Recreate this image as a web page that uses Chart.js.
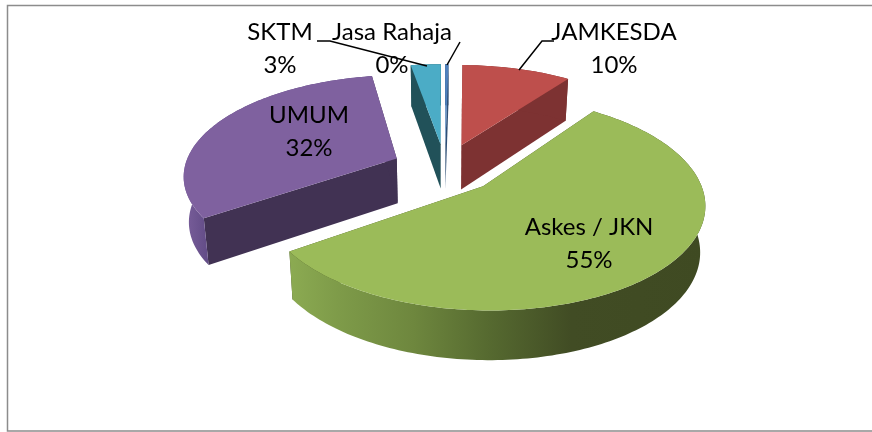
<!DOCTYPE html>
<html><head><meta charset="utf-8">
<style>html,body{margin:0;padding:0;background:#fff}#box{position:relative;width:872px;height:432px}canvas{display:block}</style>
<script src="https://cdn.jsdelivr.net/npm/chart.js@4"></script></head>
<body><div id="box"><canvas id="c" width="872" height="432"></canvas></div>
<script>
const categories = ['JAMKESDA','Askes / JKN','UMUM','SKTM','Jasa Rahaja'];
const values = [9.8, 55.3, 31.9, 2.7, 0.3];
const topColors = ['#BE4F4C','#9BBB59','#7F619F','#4BACC6','#4F81BD'];
const cutColors = ['#7D3232','#404B23','#413253','#215159','#2F4F75'];

const view = {cx:445, cy:168, A:212.5, B:99, p:0.153, D:45, shrink:0.02};
const labelBoxes = [
  {x:614,y:32},{x:589,y:227},{x:309,y:115},{x:280,y:32},{x:392,y:32}
];
const leaders = [
  [[554,41],[542,41],[519,70]],
  null,
  null,
  [[317,41],[330,41],[427,66]],
  [[460,42],[447,65]]
];
function project(px,py,z){
  const s = 1/(1+view.p*py);
  const k = 1 - view.shrink*z;
  return [view.cx + view.A*px*s*k, view.cy - view.B*py*s + view.D*z*Math.sqrt(s)];
}
const pie3d = {
  id:'pie3d',
  beforeDatasetDraw(chart,args){
    const ctx = chart.ctx, meta = chart.getDatasetMeta(0);
    const order = [2,4,3,0,1];
    order.forEach(i=>{
      const el = meta.data[i];
      const R = el.outerRadius;
      const d = (el.options.offset/4)/R;
      const a0 = el.startAngle, a1 = el.endAngle, mid=(a0+a1)/2;
      const ox = d*Math.cos(mid), oy = -d*Math.sin(mid);
      const rim = (a,z)=>project(ox+Math.cos(a), oy-Math.sin(a), z);
      const apex = z=>project(ox,oy,z);
      const n = Math.max(2,Math.ceil((a1-a0)/0.02));
      const poly = pts=>{ctx.beginPath();pts.forEach((p,j)=>j?ctx.lineTo(p[0],p[1]):ctx.moveTo(p[0],p[1]));ctx.closePath();ctx.fill();};
      // cut faces
      ctx.fillStyle = cutColors[i];
      poly([apex(0),rim(a0,0),rim(a0,1),apex(1)]);
      poly([apex(0),rim(a1,0),rim(a1,1),apex(1)]);
      // outer wall
      let wall = cutColors[i];
      if(i===1){
        const g = ctx.createLinearGradient(288,0,705,0);
        g.addColorStop(0,'#8CAB52');g.addColorStop(.12,'#7E9B49');g.addColorStop(.3,'#6E873E');
        g.addColorStop(.48,'#566A30');g.addColorStop(.68,'#414C24');g.addColorStop(1,'#3F4A22');
        wall = g;
      } else if(i===2){
        const g = ctx.createLinearGradient(184,0,210,0);
        g.addColorStop(0,'#7A5F9B');g.addColorStop(1,'#604A85');
        wall = g;
      }
      ctx.fillStyle = wall;
      const w=[];
      for(let j=0;j<=n;j++) w.push(rim(a0+(a1-a0)*j/n,0));
      for(let j=n;j>=0;j--) w.push(rim(a0+(a1-a0)*j/n,1));
      poly(w);
      // top face
      ctx.fillStyle = topColors[i];
      const t=[apex(0)];
      for(let j=0;j<=n;j++) t.push(rim(a0+(a1-a0)*j/n,0));
      poly(t);
    });
    return false;
  },
  afterDatasetsDraw(chart){
    const ctx = chart.ctx;
    const total = values.reduce((a,b)=>a+b,0);
    ctx.save();
    ctx.strokeStyle='#000';ctx.lineWidth=1.5;
    leaders.forEach(l=>{ if(!l) return; ctx.beginPath(); l.forEach((p,j)=>j?ctx.lineTo(p[0],p[1]):ctx.moveTo(p[0],p[1])); ctx.stroke();});
    ctx.fillStyle='#000';ctx.font='24px Lato';ctx.textAlign='center';ctx.textBaseline='middle';
    categories.forEach((c,i)=>{
      const b = labelBoxes[i];
      ctx.fillText(c,b.x,b.y);
      ctx.fillText(Math.round(values[i]/total*100)+'%',b.x,b.y+33);
    });
    ctx.strokeStyle='#8C8C8C';ctx.lineWidth=1.5;
    ctx.beginPath();ctx.moveTo(873,5.5);ctx.lineTo(7.5,5.5);ctx.lineTo(7.5,431);ctx.lineTo(873,431);ctx.stroke();
    ctx.restore();
  }
};
new Chart(document.getElementById('c'),{
  type:'pie',
  data:{labels:categories,datasets:[{data:values,backgroundColor:topColors,borderWidth:0,offset:144}]},
  options:{responsive:false,animation:false,rotation:1,layout:{padding:0},
    plugins:{legend:{display:false},tooltip:{enabled:false},title:{display:false}}},
  plugins:[pie3d]
});
</script></body></html>
